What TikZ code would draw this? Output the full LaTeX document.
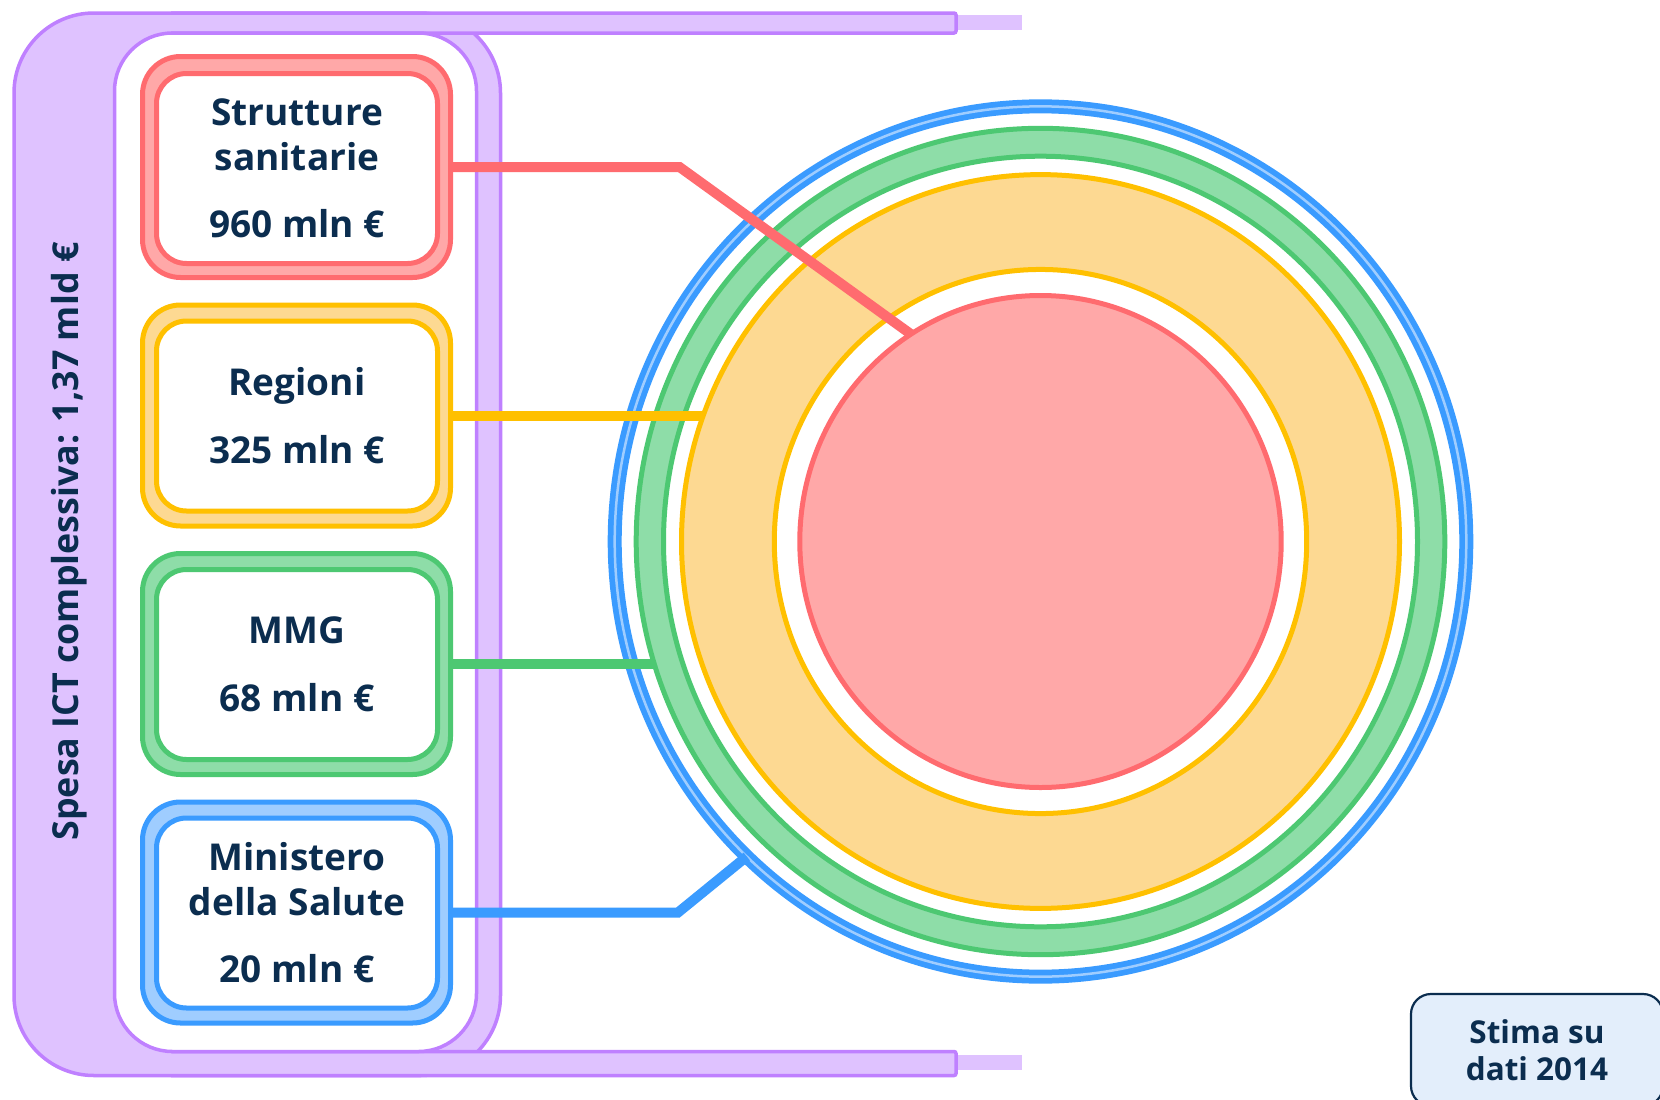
\documentclass[tikz,border=0pt]{standalone}
\usepackage{fontspec}
\setmainfont{Open Sans}
\usetikzlibrary{shapes.geometric}
\definecolor{purp}{HTML}{BF80FF}
\definecolor{purpl}{HTML}{DFC2FF}
\definecolor{redd}{HTML}{FF6B6F}
\definecolor{redl}{HTML}{FFA8A8}
\definecolor{yel}{HTML}{FFC000}
\definecolor{yell}{HTML}{FDD992}
\definecolor{grn}{HTML}{4DC872}
\definecolor{grnl}{HTML}{8EDDA8}
\definecolor{blu}{HTML}{3A9BFF}
\definecolor{blul}{HTML}{9FCDFF}
\definecolor{navy}{HTML}{0B2D4F}
\definecolor{notef}{HTML}{E3EEFB}
\begin{document}
\begin{tikzpicture}[x=1pt,y=-1pt,
  outerbox/.style={rectangle, rounded corners=38pt, line width=5pt, minimum width=308pt, minimum height=221pt, inner sep=0pt, outer sep=0pt},
  innerbox/.style={rectangle, rounded corners=30pt, line width=5pt, fill=white, minimum width=281pt, minimum height=190pt, inner sep=0pt, align=center, font=\fontsize{37}{45}\selectfont\bfseries, text=navy},
  ring/.style={ellipse, inner sep=0pt, outer sep=0pt, line width=5pt},
  link/.style={line width=10pt},
  bracket/.style={draw=purp, line width=3.5pt},
  notebox/.style={rectangle, rounded corners=20pt, fill=notef, draw=navy, line width=2.2pt, minimum width=252pt, minimum height=112pt, align=center, font=\fontsize{31.5}{37}\selectfont\bfseries, text=navy}
]
\useasboundingbox (0,0) rectangle (1660,1100);

% purple bracket
\fill[purpl] (950,15) rectangle (1022,29.5);
\fill[purpl] (950,1054.5) rectangle (1022,1069.5);
\draw[bracket, fill=purpl, rounded corners=80pt] (14,13) rectangle (500.5,1075.5);
\fill[purpl] (171,13) rectangle (956,33);
\draw[bracket, rounded corners=2pt] (171,13) -- (956,13) -- (956,33) -- (171,33);
\fill[purpl] (171,1051.5) rectangle (956,1075.5);
\draw[bracket, rounded corners=2pt] (171,1051.5) -- (956,1051.5) -- (956,1075.5) -- (171,1075.5);
\draw[bracket, fill=white, rounded corners=58pt] (114.5,33) rectangle (476.5,1051.5);

\node[rotate=90, font=\fontsize{35.8}{40}\selectfont\bfseries, text=navy] (total) at (69,541.5) {Spesa ICT complessiva: 1,37 mld €};

% boxes
\node[outerbox, draw=redd, fill=redl] (b1) at (296.5,167) {};
\node[innerbox, draw=redd] (t1) at (297,168.5) {Strutture\\sanitarie\\[22pt]960 mln €};
\node[outerbox, draw=yel, fill=yell] (b2) at (296.5,415.5) {};
\node[innerbox, draw=yel] (t2) at (297,416) {Regioni\\[23pt]325 mln €};
\node[outerbox, draw=grn, fill=grnl] (b3) at (296.5,664) {};
\node[innerbox, draw=grn] (t3) at (297,664.5) {MMG\\[23pt]68 mln €};
\node[outerbox, draw=blu, fill=blul] (b4) at (296.5,912.5) {};
\node[innerbox, draw=blu] (t4) at (297,913) {Ministero\\della Salute\\[22pt]20 mln €};

% rings
\node[ring, draw=blu, line width=5.75pt, double=blul, double distance=2.5pt, minimum width=851.6pt, minimum height=870.3pt] (cb) at (1040.5,541.5) {};
\node[ring, draw=grn, fill=grnl, minimum width=808.6pt, minimum height=826.4pt] (cg) at (1040.5,541.5) {};
\node[ring, draw=grn, fill=white, minimum width=754pt, minimum height=770.6pt] (cgi) at (1040.5,541.5) {};
\node[ring, draw=yel, fill=yell, minimum width=718pt, minimum height=733.8pt] (cy) at (1040.5,541.5) {};
\node[ring, draw=yel, fill=white, minimum width=532.4pt, minimum height=544.1pt] (cyi) at (1040.5,541.5) {};
\node[ring, draw=redd, fill=redl, minimum width=481.4pt, minimum height=492pt] (cr) at (1040.5,541.5) {};

% connectors
\draw[link, blu] (b4.east) -- ++(227.5,0) -- (cb.227.2);
\draw[link, grn] (b3.east) -- (b3.east -| cg.197.6);
\draw[link, yel] (b2.east) -- (b2.east -| cy.159.7);
\draw[link, redd] (b1.east) -- ++(229,0) -- (cr.122.7);

% note
\node[notebox] (note) at (1537,1050) {Stima su\\dati 2014};
\end{tikzpicture}
\end{document}
